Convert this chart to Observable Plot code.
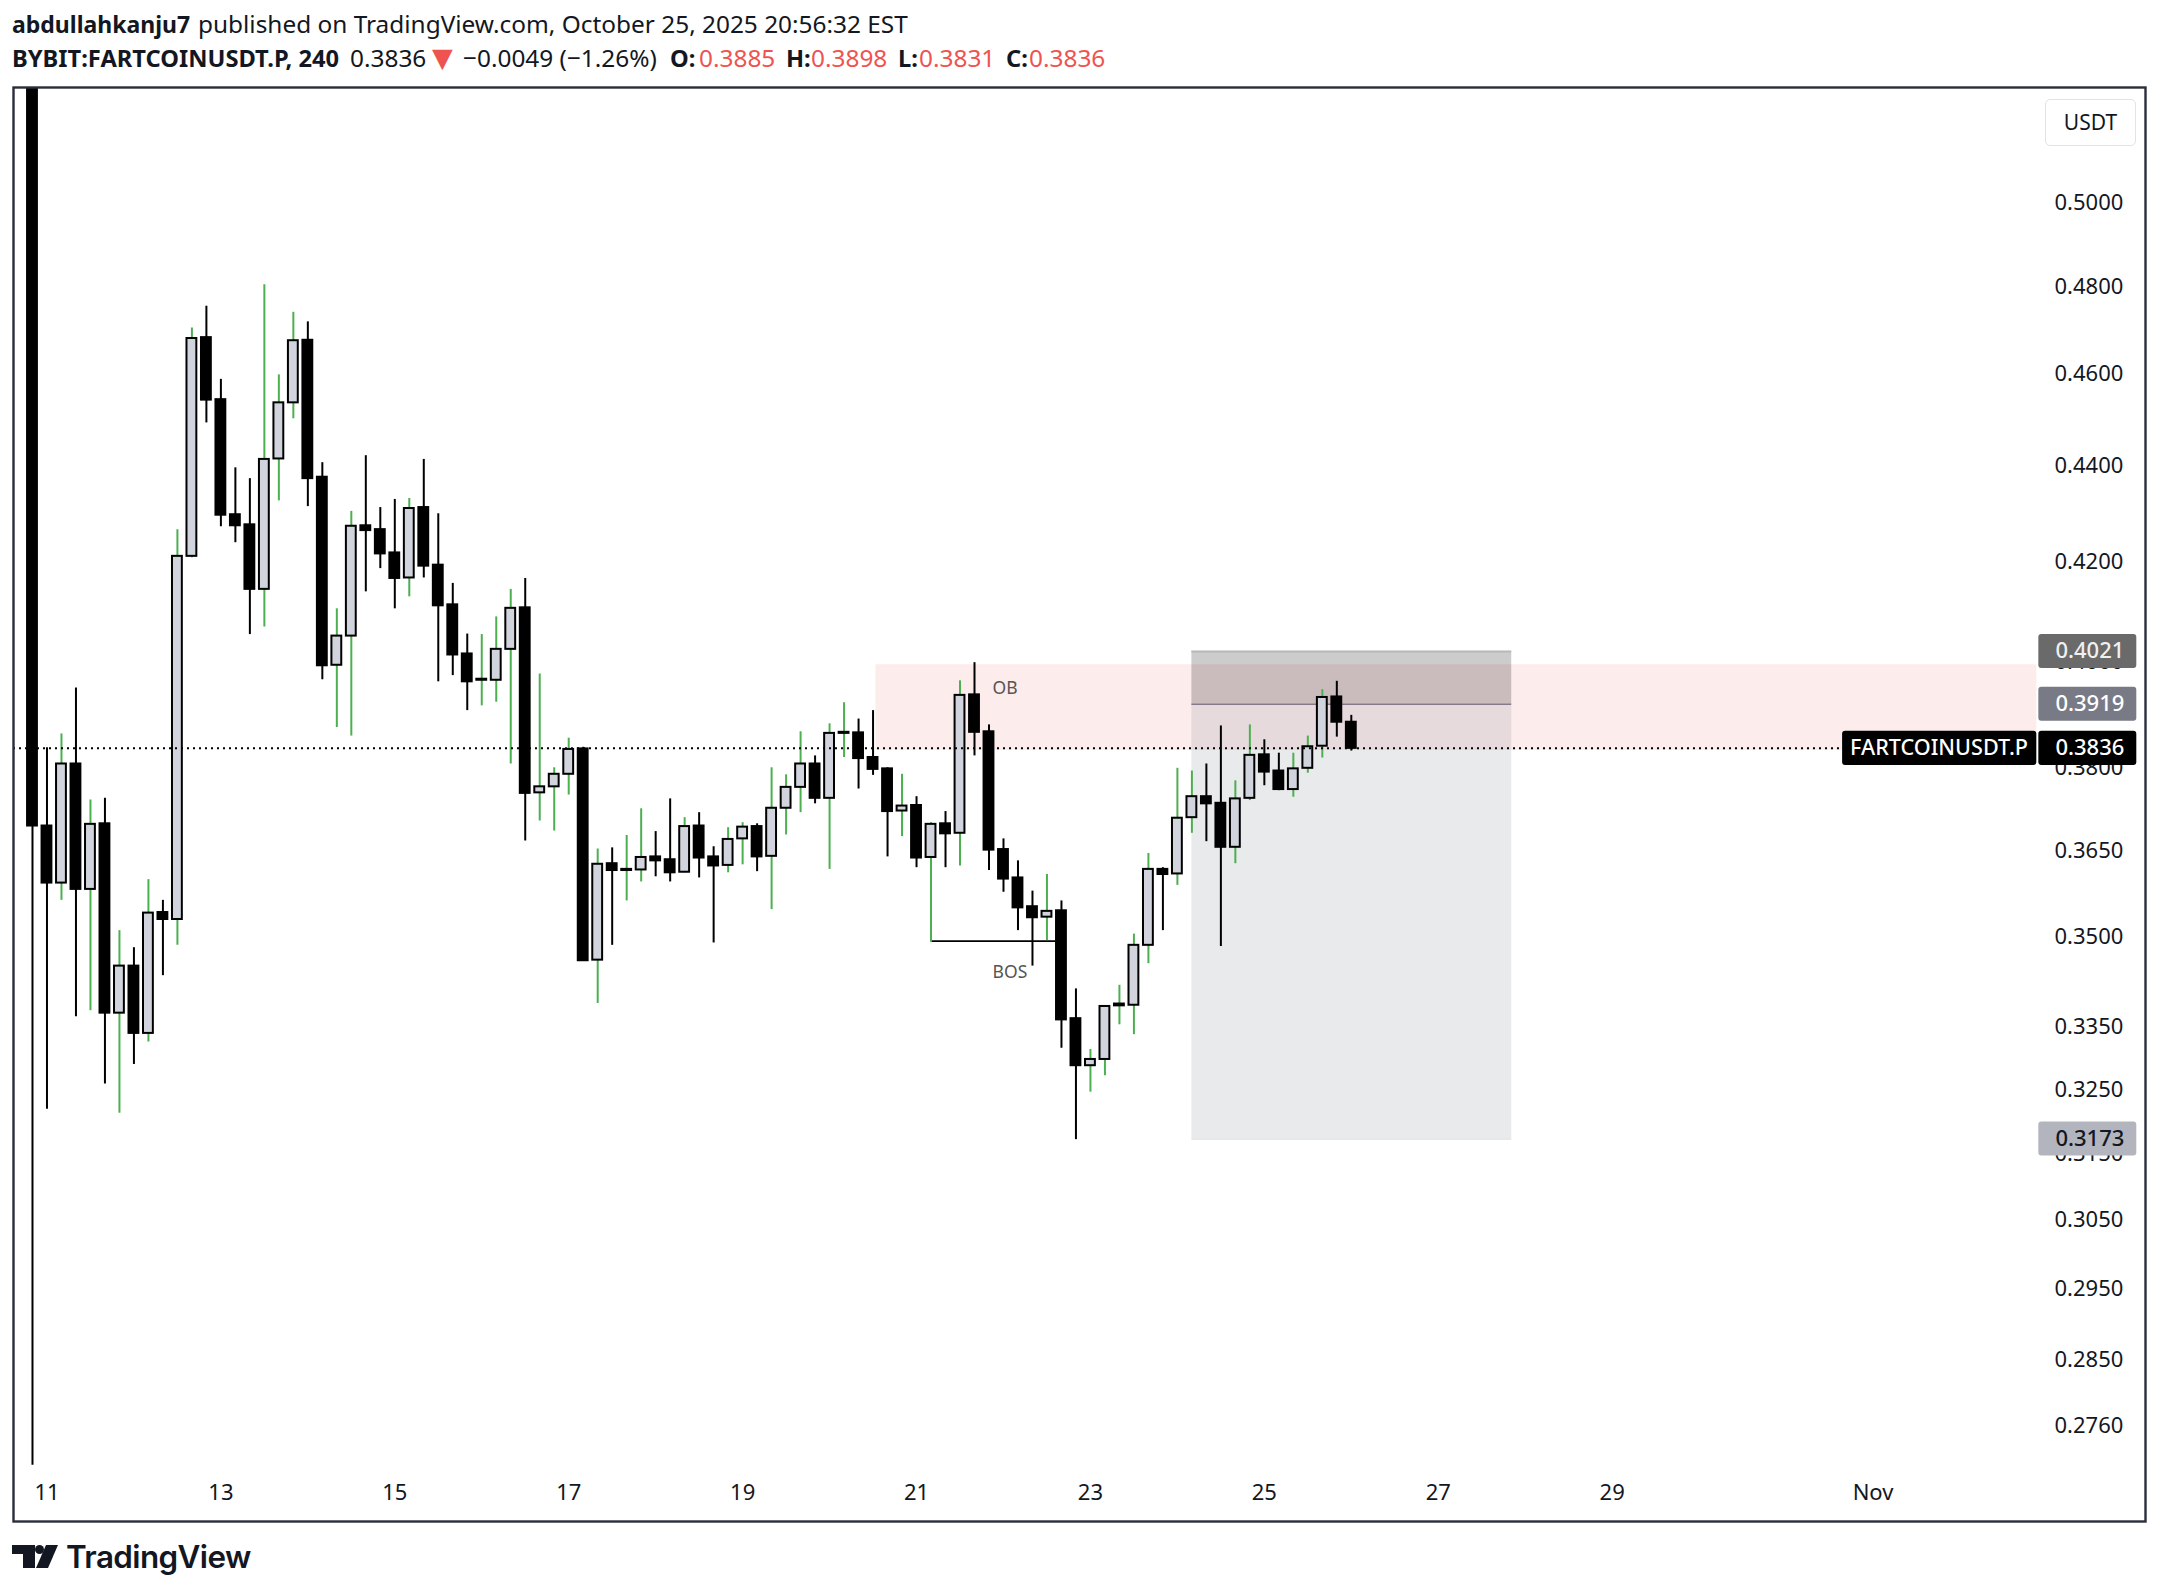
<!DOCTYPE html>
<html>
<head>
<meta charset="utf-8">
<script src="https://cdn.jsdelivr.net/npm/d3@7"></script>
<script src="https://cdn.jsdelivr.net/npm/@observablehq/plot@0.6"></script>
<style>
html,body{margin:0;padding:0;background:#fff;width:2158px;height:1594px;overflow:hidden}
#chart{position:absolute;left:0;top:0}
.h{position:absolute;font-family:"Noto Sans",sans-serif;font-size:24.4px;color:#131722;white-space:nowrap;line-height:30px}
.b{font-weight:700;font-size:23.7px}
.r{color:#ef5350}
#usdt{position:absolute;left:2045px;top:99px;width:89px;height:45px;border:1px solid #e0e3eb;border-radius:5px;background:#fff;font-family:"Noto Sans",sans-serif;font-size:21px;color:#131722;text-align:center;line-height:45px}
</style>
</head>
<body>
<div id="chart"></div>
<div class="h b" style="left:12px;top:9px;font-size:23px">abdullahkanju7</div>
<div class="h" style="left:198px;top:9px">published on TradingView.com, October 25, 2025 20:56:32 EST</div>
<div class="h b" style="left:12px;top:43px">BYBIT:FARTCOINUSDT.P, 240</div>
<div class="h" style="left:350px;top:43px">0.3836</div>
<div class="h r" style="left:432px;top:43px;font-family:'DejaVu Sans';font-size:27px">▼</div>
<div class="h" style="left:463px;top:43px">−0.0049 (−1.26%)</div>
<div class="h b" style="left:670px;top:43px">O:</div><div class="h r" style="left:699px;top:43px">0.3885</div>
<div class="h b" style="left:786px;top:43px">H:</div><div class="h r" style="left:811px;top:43px">0.3898</div>
<div class="h b" style="left:898px;top:43px">L:</div><div class="h r" style="left:919px;top:43px">0.3831</div>
<div class="h b" style="left:1006px;top:43px">C:</div><div class="h r" style="left:1029px;top:43px">0.3836</div>
<div id="usdt">USDT</div>
<svg style="position:absolute;left:0;top:0;pointer-events:none" width="300" height="1594" viewBox="0 0 300 1594">
  <g fill="#131722">
    <polygon points="12,1545 35,1545 35,1568 23,1568 23,1554 12,1554"/>
    <circle cx="39.5" cy="1549.5" r="4.5"/>
    <polygon points="46,1545 58,1545 48,1568 36,1568"/>
  </g>
</svg>
<div style="position:absolute;left:66px;top:1536px;font-family:Inter,sans-serif;font-weight:600;font-size:31.4px;letter-spacing:-.6px;line-height:42px;color:#131722">TradingView</div>
<script>
const open = [0.6100,0.3694,0.3593,0.3807,0.3582,0.3698,0.3373,0.3451,0.3340,0.3542,0.3530,0.4211,0.4683,0.4544,0.4297,0.4276,0.4144,0.4415,0.4537,0.4677,0.4376,0.3994,0.4051,0.4274,0.4266,0.4218,0.4167,0.4312,0.4193,0.4113,0.4016,0.3965,0.3965,0.4025,0.4107,0.3754,0.3765,0.3788,0.3835,0.3461,0.3627,0.3615,0.3616,0.3639,0.3634,0.3612,0.3694,0.3639,0.3624,0.3671,0.3693,0.3640,0.3726,0.3764,0.3807,0.3744,0.3864,0.3865,0.3819,0.3798,0.3721,0.3731,0.3638,0.3698,0.3681,0.3937,0.3867,0.3652,0.3602,0.3552,0.3534,0.3545,0.3364,0.3288,0.3298,0.3385,0.3386,0.3486,0.3617,0.3609,0.3709,0.3747,0.3735,0.3656,0.3744,0.3824,0.3794,0.3760,0.3799,0.3840,0.3933,0.3885];
const high = [0.6200,0.3837,0.3863,0.3950,0.3741,0.3744,0.3511,0.3482,0.3599,0.3563,0.4266,0.4705,0.4755,0.4589,0.4396,0.4373,0.4805,0.4599,0.4741,0.4719,0.4407,0.4105,0.4304,0.4422,0.4312,0.4329,0.4331,0.4414,0.4299,0.4156,0.4055,0.4054,0.4089,0.4144,0.4166,0.3977,0.3800,0.3855,0.3838,0.3653,0.3655,0.3677,0.3725,0.3684,0.3743,0.3709,0.3718,0.3657,0.3691,0.3700,0.3698,0.3800,0.3787,0.3867,0.3822,0.3882,0.3922,0.3891,0.3907,0.3800,0.3788,0.3747,0.3700,0.3720,0.3964,0.3999,0.3880,0.3671,0.3632,0.3579,0.3608,0.3562,0.3413,0.3314,0.3384,0.3419,0.3505,0.3645,0.3620,0.3799,0.3794,0.3807,0.3878,0.3776,0.3880,0.3852,0.3827,0.3827,0.3859,0.3947,0.3963,0.3898];
const low = [0.2708,0.3219,0.3563,0.3367,0.3377,0.3259,0.3213,0.3290,0.3326,0.3435,0.3486,0.4208,0.4493,0.4272,0.4239,0.4054,0.4069,0.4326,0.4502,0.4314,0.3966,0.3875,0.3859,0.4139,0.4186,0.4105,0.4129,0.4167,0.3962,0.3974,0.3907,0.3916,0.3923,0.3807,0.3667,0.3703,0.3685,0.3750,0.3460,0.3389,0.3486,0.3562,0.3595,0.3604,0.3595,0.3611,0.3602,0.3490,0.3611,0.3625,0.3613,0.3547,0.3678,0.3718,0.3734,0.3617,0.3819,0.3761,0.3786,0.3639,0.3675,0.3620,0.3491,0.3620,0.3623,0.3822,0.3615,0.3577,0.3511,0.3451,0.3494,0.3316,0.3172,0.3246,0.3272,0.3354,0.3338,0.3455,0.3511,0.3589,0.3681,0.3666,0.3484,0.3627,0.3740,0.3767,0.3758,0.3746,0.3790,0.3818,0.3857,0.3831];
const close = [0.3694,0.3593,0.3807,0.3582,0.3697,0.3373,0.3451,0.3340,0.3541,0.3530,0.4211,0.4681,0.4543,0.4296,0.4274,0.4144,0.4414,0.4537,0.4676,0.4373,0.3993,0.4051,0.4273,0.4264,0.4216,0.4166,0.4310,0.4191,0.4111,0.4014,0.3962,0.3967,0.4025,0.4106,0.3753,0.3765,0.3788,0.3834,0.3460,0.3626,0.3615,0.3617,0.3638,0.3632,0.3611,0.3693,0.3637,0.3623,0.3670,0.3692,0.3639,0.3726,0.3764,0.3807,0.3744,0.3864,0.3866,0.3817,0.3797,0.3720,0.3730,0.3637,0.3697,0.3680,0.3936,0.3866,0.3651,0.3600,0.3550,0.3533,0.3544,0.3362,0.3288,0.3298,0.3384,0.3388,0.3486,0.3617,0.3608,0.3708,0.3747,0.3734,0.3656,0.3743,0.3823,0.3792,0.3760,0.3798,0.3839,0.3932,0.3885,0.3836];

const dayTicks = [1,13,25,37,49,61,73,85,97,109,127];
const dayLabels = ["11","13","15","17","19","21","23","25","27","29","Nov"];
const priceTicks = [0.5,0.48,0.46,0.44,0.42,0.40,0.38,0.365,0.35,0.335,0.325,0.315,0.305,0.295,0.285,0.276];

const lastPrice = 0.3836;
const obZone = {x1:58.2, x2:138.3, y1:0.3832, y2:0.3995};
const position = {x1:80, x2:102.07, stop:0.4021, entry:0.3919, target:0.3173};
const bos = {x1:62.04, x2:70.6, y:0.3493};
const notes = [{x:66.25,y:0.395,t:"OB"},{x:66.25,y:0.3441,t:"BOS"}];
const priceLabels = [
  {p:0.4021,fill:"#6a6a6a",ink:"#f0f0f0"},
  {p:0.3919,fill:"#787b86",ink:"#ffffff"},
  {p:0.3836,fill:"#000000",ink:"#ffffff"},
  {p:0.3173,fill:"#b2b5be",ink:"#131722"}
];

const candles = open.map((o,i)=>({i,o,h:high[i],l:low[i],c:close[i],up:close[i]>=o}));
const FONT = 22;
const pad = 1.0083;

const chart = Plot.plot({
  width:2158,
  height:1594,
  marginTop:87,
  marginBottom:73,
  marginLeft:13,
  marginRight:13,
  style:{fontFamily:"'Noto Sans',sans-serif",background:"transparent",color:"#131722"},
  x:{type:"linear",domain:[-1.31,145.8]},
  y:{type:"log",domain:[0.2635,0.5288]},
  marks:[
    Plot.rect([obZone],{x1:"x1",x2:"x2",y1:"y1",y2:"y2",fill:"#fdecec"}),
    Plot.rect([position],{x1:"x1",x2:"x2",y1:"entry",y2:"stop",fill:"#000",fillOpacity:0.2}),
    Plot.rect([position],{x1:"x1",x2:"x2",y1:"target",y2:"entry",fill:"#787b86",fillOpacity:0.16}),
    Plot.ruleY([position.stop],{x1:position.x1,x2:position.x2,stroke:"#b8b8b8",strokeWidth:2}),
    Plot.ruleY([position.entry],{x1:position.x1,x2:position.x2,stroke:"#85798a",strokeWidth:1.6}),
    Plot.ruleY([position.target],{x1:position.x1,x2:position.x2,stroke:"#dfe0e3",strokeWidth:1.6}),
    Plot.ruleY([bos.y],{x1:bos.x1,x2:bos.x2,stroke:"#000",strokeWidth:1.8}),
    Plot.ruleX(candles,{x:"i",y1:"l",y2:"h",stroke:d=>d.up?"#4caf50":"#000",strokeWidth:2,clip:"frame"}),
    Plot.rect(candles,{x1:d=>d.i-0.34,x2:d=>d.i+0.34,y1:d=>Math.min(d.o,d.c),y2:d=>Math.max(d.o,d.c),
      fill:d=>d.up?"#d1d4dc":"#000",stroke:"#000",strokeWidth:2,clip:"frame"}),
    Plot.ruleY([lastPrice],{x1:-1.31,x2:125,stroke:"#000",strokeWidth:2,strokeDasharray:"2,4"}),
    Plot.text(notes,{x:"x",y:"y",text:"t",fill:"#555",fontSize:17.5,textAnchor:"start"}),
    Plot.axisX({anchor:"bottom",ticks:dayTicks,tickFormat:d=>dayLabels[dayTicks.indexOf(d)],tickSize:0,tickPadding:-37,fontSize:FONT,label:null,fill:"#131722"}),
    Plot.axisY({anchor:"right",ticks:priceTicks,tickFormat:d=>d.toFixed(4),tickSize:0,tickPadding:-91,fontSize:FONT,label:null,fill:"#131722",textAnchor:"start"}),
    Plot.rect([lastPrice],{x1:124.9,x2:138.3,y1:d=>d/pad,y2:d=>d*pad,fill:"#000",r:3}),
    Plot.text([lastPrice],{x:131.55,y:d=>d,text:()=>"FARTCOINUSDT.P",fill:"#fff",fontSize:21.6,fontWeight:500}),
    Plot.rect(priceLabels,{x1:138.44,x2:145.2,y1:d=>d.p/pad,y2:d=>d.p*pad,fill:"fill",r:3}),
    Plot.text(priceLabels,{x:141.96,y:"p",text:d=>d.p.toFixed(4),fill:"ink",fontSize:FONT,fontWeight:500}),
    Plot.frame({stroke:"#2a2e39",strokeWidth:2.4})
  ]
});
document.getElementById("chart").appendChild(chart);
</script>
</body>
</html>
